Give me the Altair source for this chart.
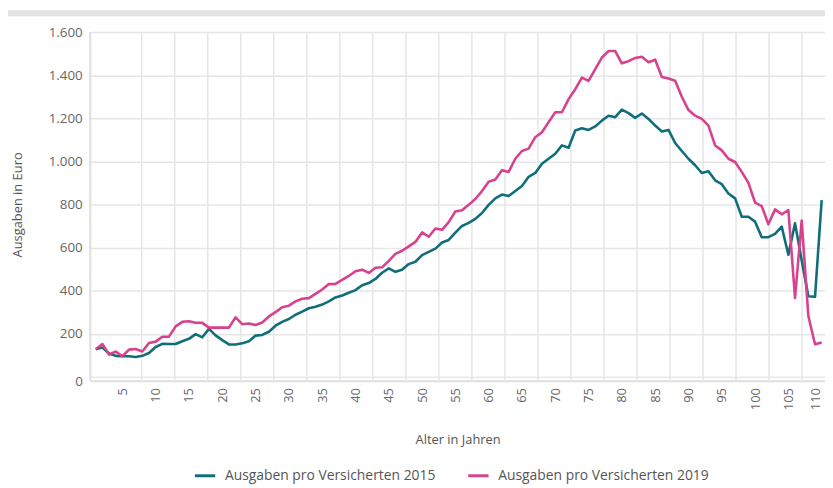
import altair as alt
import pandas as pd

# ---------------- data ----------------
ages = list(range(1, 111))

ausgaben_2015 = [
    128, 136, 108, 97, 95, 95, 92, 97, 110, 138,
    153, 152, 152, 165, 176, 198, 183, 222, 192, 170,
    150, 150, 155, 165, 191, 194, 209, 237, 255, 268,
    288, 302, 318, 325, 335, 350, 368, 377, 390, 402,
    425, 435, 454, 483, 503, 487, 497, 523, 534, 565,
    580, 595, 623, 635, 669, 700, 714, 733, 760, 798,
    828, 846, 839, 862, 886, 928, 946, 989, 1012, 1035,
    1074, 1063, 1143, 1154, 1146, 1162, 1189, 1212, 1205, 1240,
    1224, 1202, 1222, 1197, 1166, 1139, 1146, 1085, 1048, 1012,
    982, 946, 954, 912, 894, 851, 828, 743, 743, 720,
    648, 648, 663, 697, 566, 712, 540, 374, 371, 820,
]

ausgaben_2019 = [
    128, 152, 103, 117, 95, 126, 129, 117, 157, 163,
    186, 186, 234, 255, 258, 251, 250, 228, 229, 228,
    228, 276, 244, 247, 240, 252, 280, 300, 323, 330,
    350, 362, 365, 385, 405, 430, 431, 450, 468, 490,
    497, 482, 506, 508, 538, 570, 585, 605, 626, 670,
    650, 688, 682, 718, 767, 773, 798, 825, 862, 905,
    916, 959, 951, 1012, 1048, 1059, 1112, 1135, 1182, 1228,
    1228, 1289, 1335, 1389, 1374, 1428, 1482, 1512, 1512, 1455,
    1465, 1480, 1486, 1460, 1472, 1392, 1385, 1374, 1300, 1238,
    1212, 1197, 1166, 1074, 1051, 1012, 997, 951, 900, 808,
    792, 708, 777, 754, 774, 366, 725, 282, 151, 159,
]

series_names = ["Ausgaben pro Versicherten 2015", "Ausgaben pro Versicherten 2019"]
series_colors = ["#0f6e7a", "#d8418d"]
x_tick_values = list(range(5, 111, 5))
y_tick_values = list(range(0, 1601, 200))

assert len(ausgaben_2015) == len(ages) == len(ausgaben_2019)

df = pd.DataFrame({
    "Alter": ages + ages,
    "Wert": ausgaben_2015 + ausgaben_2019,
    "Serie": [series_names[0]] * len(ages) + [series_names[1]] * len(ages),
})

# ---------------- layout ----------------
W, H = 742, 348
FONT = "Open Sans"
x_scale = alt.Scale(domain=[0.17, 110.5], nice=False, zero=False)
y_scale = alt.Scale(domain=[0, 1600], nice=False)

x_axis = alt.Axis(
    values=x_tick_values,
    labelAngle=270,
    grid=False,
    ticks=False,
    domain=True,
    domainColor="#dedede",
    domainWidth=2,
    offset=4,
    labelPadding=7,
    labelFontSize=13,
    labelColor="#666666",
    labelFont=FONT,
    labelFlush=False,
    labelOverlap=False,
    labelOffset={"condition": {"test": "datum.value === 110", "value": -6}, "value": 0},
    title="Alter in Jahren",
    titleFont=FONT,
    titleFontSize=13,
    titleFontWeight="normal",
    titleColor="#555555",
    titleY=59,
    titleBaseline="middle",
)

y_axis = alt.Axis(
    values=y_tick_values,
    labelExpr="replace(format(datum.value, ',d'), ',', '.')",
    grid=True,
    gridColor="#e6e6e6",
    gridWidth=1.5,
    gridOpacity={"condition": {"test": "datum.value === 0", "value": 0}, "value": 1},
    labelOffset={"condition": {"test": "datum.value === 0", "value": 5}, "value": 0},
    domain=False,
    ticks=False,
    labelPadding=8,
    labelFontSize=13.5,
    labelColor="#666666",
    labelFont=FONT,
    title="Ausgaben in Euro",
    titleFont=FONT,
    titleFontSize=13,
    titleFontWeight="normal",
    titleColor="#555555",
    titleX=-73,
    titleBaseline="middle",
)

# vertical grid lines (sit between the labelled ages, as in the reference)
grid_df = pd.DataFrame({"Alter": [7.9 + 4.958 * k for k in range(21)]})
one_row = pd.DataFrame({"d": [0]})

top_bar = alt.Chart(one_row).mark_rect(color="#e3e3e3").encode(
    x=alt.value(-84), x2=alt.value(W), y=alt.value(-22), y2=alt.value(-16)
)

vgrid = alt.Chart(grid_df).mark_rule(color="#e6e6e6", strokeWidth=1.5).encode(
    x=alt.X("Alter:Q", scale=x_scale, axis=x_axis),
    y=alt.value(0),
    y2=alt.value(H + 4),
)

y_domain = alt.Chart(one_row).mark_rule(color="#e0e0e0", strokeWidth=2).encode(
    x=alt.value(0), y=alt.value(0), y2=alt.value(H + 4)
)

lines = alt.Chart(df).mark_line(strokeWidth=2.6, strokeJoin="round").encode(
    x=alt.X("Alter:Q", scale=x_scale, axis=x_axis),
    y=alt.Y("Wert:Q", scale=y_scale, axis=y_axis),
    color=alt.Color(
        "Serie:N",
        scale=alt.Scale(domain=series_names, range=series_colors),
        legend=alt.Legend(
            orient="none",
            legendX=104,
            legendY=436,
            direction="horizontal",
            title=None,
            symbolType="stroke",
            symbolStrokeWidth=3,
            symbolSize=420,
            labelFontSize=14,
            labelFont=FONT,
            labelColor="#555555",
            labelLimit=400,
            columnPadding=26,
            labelOffset=8,
        ),
    ),
)

chart = (
    alt.layer(top_bar, vgrid, y_domain, lines)
    .properties(
        width=W,
        height=H,
        autosize="none",
        padding={"left": 83, "top": 22, "right": 0, "bottom": 110},
    )
    .configure_view(stroke=None)
    .configure(background="white")
)

chart.save("out.html", embed_options={"renderer": "svg", "actions": False})
